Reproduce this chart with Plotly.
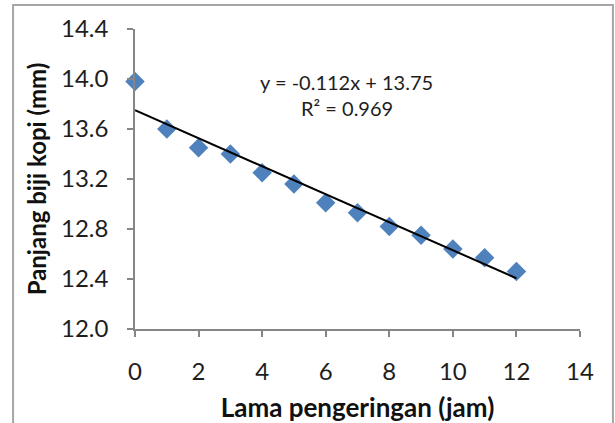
import plotly.graph_objects as go

# Drying time (hours) and coffee bean length (mm)
lama_jam = [0, 1, 2, 3, 4, 5, 6, 7, 8, 9, 10, 11, 12]
panjang_mm = [13.98, 13.60, 13.45, 13.40, 13.25, 13.16, 13.01,
              12.93, 12.82, 12.75, 12.64, 12.57, 12.46]

# Linear trendline coefficients as reported on the chart
slope = -0.112
intercept = 13.75
r_squared = 0.969
trend_x = [0, 12]
trend_y = [slope * x + intercept for x in trend_x]

x_ticks = [0, 2, 4, 6, 8, 10, 12, 14]
y_ticks = [12.0, 12.4, 12.8, 13.2, 13.6, 14.0, 14.4]

FONT = "Lato"
TXT = "#1e1e1e"
AXIS = "#868686"

fig = go.Figure()
fig.add_trace(go.Scatter(
    x=lama_jam, y=panjang_mm, mode="markers",
    marker=dict(symbol="diamond", size=15, color="#4F81BD"),
    cliponaxis=False, showlegend=False,
))
fig.add_trace(go.Scatter(
    x=trend_x, y=trend_y, mode="lines",
    line=dict(color="black", width=2),
    cliponaxis=False, showlegend=False,
))

fig.update_layout(
    width=615, height=423,
    margin=dict(l=135, r=35, t=29, b=94),
    paper_bgcolor="white", plot_bgcolor="white",
    font=dict(family=FONT, color=TXT),
    xaxis=dict(
        range=[0, 14], tickvals=x_ticks, showgrid=False, zeroline=False,
        automargin=False,
        showline=True, linecolor=AXIS, linewidth=1.5,
        ticks="outside", ticklen=6, tickcolor=AXIS, tickwidth=1.5,
        tickfont=dict(size=24, family=FONT, color=TXT),
        ticklabelstandoff=14,
        title=dict(text="<b>Lama pengeringan (jam)</b>",
                   font=dict(size=26, family=FONT, color="#111111"), standoff=16),
    ),
    yaxis=dict(
        range=[12.0, 14.4], tickvals=y_ticks, tickformat=".1f",
        showgrid=False, zeroline=False, automargin=False,
        showline=True, linecolor=AXIS, linewidth=1.5,
        ticks="outside", ticklen=6, tickcolor=AXIS, tickwidth=1.5,
        tickfont=dict(size=24, family=FONT, color=TXT),
        ticklabelstandoff=14,
        title=dict(text="<b>Panjang biji kopi (mm)</b>",
                   font=dict(size=24, family=FONT, color="#111111"), standoff=8),
    ),
    annotations=[
        dict(xref="paper", yref="paper", x=0.476, y=0.823,
             xanchor="center", yanchor="middle",
             text=f"y = {slope}x + {intercept}", showarrow=False,
             font=dict(size=20, family=FONT, color=TXT)),
        dict(xref="paper", yref="paper", x=0.476, y=0.737,
             xanchor="center", yanchor="middle",
             text=f"R² = {r_squared}", showarrow=False,
             font=dict(size=20, family=FONT, color=TXT)),
    ],
    shapes=[dict(
        type="rect", xref="paper", yref="paper",
        x0=-0.274, x1=1.074, y0=-0.4, y1=1.08,
        line=dict(color="#a6a6a6", width=2), layer="below",
    )],
)

fig.write_html("out.html")
